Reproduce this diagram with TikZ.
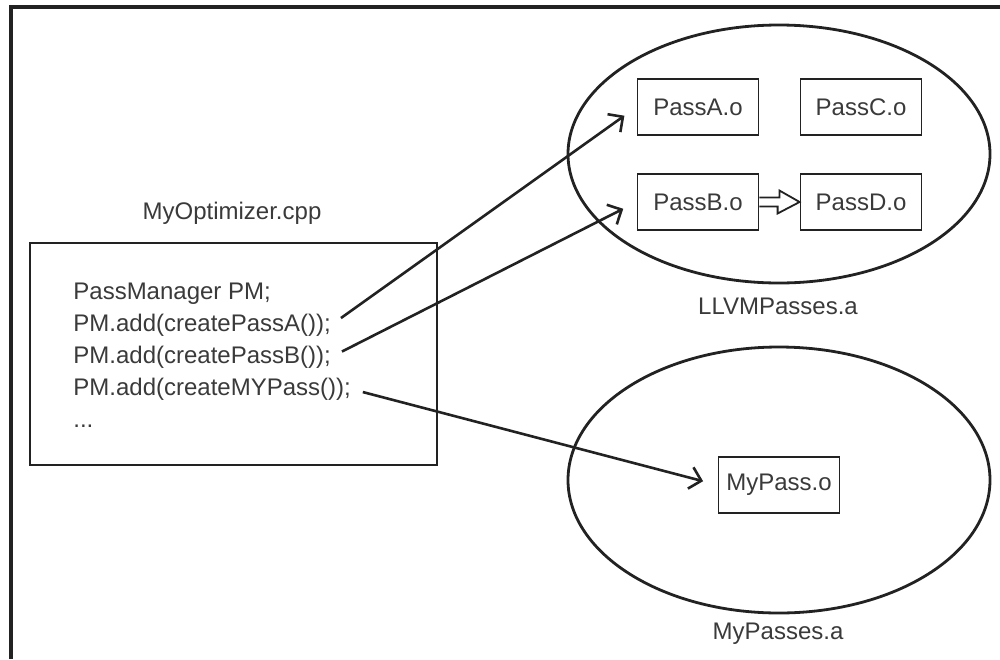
\documentclass[tikz,border=0pt]{standalone}
\usepackage{fontspec}
\setmainfont{Liberation Sans}
\usetikzlibrary{arrows.meta,positioning,shapes}
\definecolor{inkgray}{HTML}{222222}
\definecolor{txtgray}{HTML}{3a3a3a}

\begin{document}
\begin{tikzpicture}[x=0.5pt, y=-0.5pt, font=\fontsize{12}{14}\selectfont, text=txtgray]
		\useasboundingbox (0,0) rectangle (1000,659);
		\tikzset{
			objbox/.style={draw=inkgray, line width=0.9pt, minimum width=60.5pt, minimum height=28pt, inner sep=0pt},
			archive/.style={ellipse, draw=inkgray, line width=1.4pt, minimum width=211pt, inner sep=0pt},
			codeline/.style={anchor=west, inner sep=0pt, text height=9pt, text depth=3pt},
			call/.style={draw=inkgray, line width=1.3pt, -{Straight Barb[length=5.5pt, width=11pt, line width=1.3pt]}, shorten <=6pt, shorten >=7.5pt},
			hollowarrow/.style={draw=inkgray, line width=0.9pt, line join=miter}
		}
		% frame
		\draw[inkgray, line width=1.6pt] (11,659) -- (11,7) -- (1000,7);
		% source file
		\node[draw=inkgray, line width=1.4pt, minimum width=203.5pt, minimum height=111pt] (src) at (233.5,354) {};
		\node (srcname) at (232,213) {MyOptimizer.cpp};
		\node[codeline] (pm) at (73,293) {PassManager PM;};
		\node[codeline] (addA) at (73,325) {PM.add(createPassA());};
		\node[codeline] (addB) at (73,357) {PM.add(createPassB());};
		\node[codeline] (addMy) at (73,389) {PM.add(createMYPass());};
		\node[codeline] (dots) at (73,421) {...};
		% archives
		\node[archive, minimum height=129pt] (llvm) at (779,154) {};
		\node (llvmname) at (778,306) {LLVMPasses.a};
		\node[archive, minimum height=133pt] (mine) at (779,480) {};
		\node (minename) at (778,634) {MyPasses.a};
		\node[objbox] (passA) at (698,107) {PassA.o};
		\node[objbox] (passC) at (861,107) {PassC.o};
		\node[objbox] (passB) at (698,202) {PassB.o};
		\node[objbox] (passD) at (861,202) {PassD.o};
		\node[objbox] (mypass) at (779,485) {MyPass.o};
		% links
		\draw[call] (addA.east) -- (passA.west);
		\draw[call] (addB.east) -- (passB.west);
		\draw[call] (addMy.east) -- (mypass.west);
		% hollow arrow B -> D
		\draw[hollowarrow] ([yshift=2.25pt]passB.east) -- ++(10pt,0) -- ++(0,3.5pt) -- (passD.west)
			-- ++(-11pt,-5.75pt) -- ++(0,3.5pt) -- ([yshift=-2.25pt]passB.east);
	\end{tikzpicture}
\end{document}
